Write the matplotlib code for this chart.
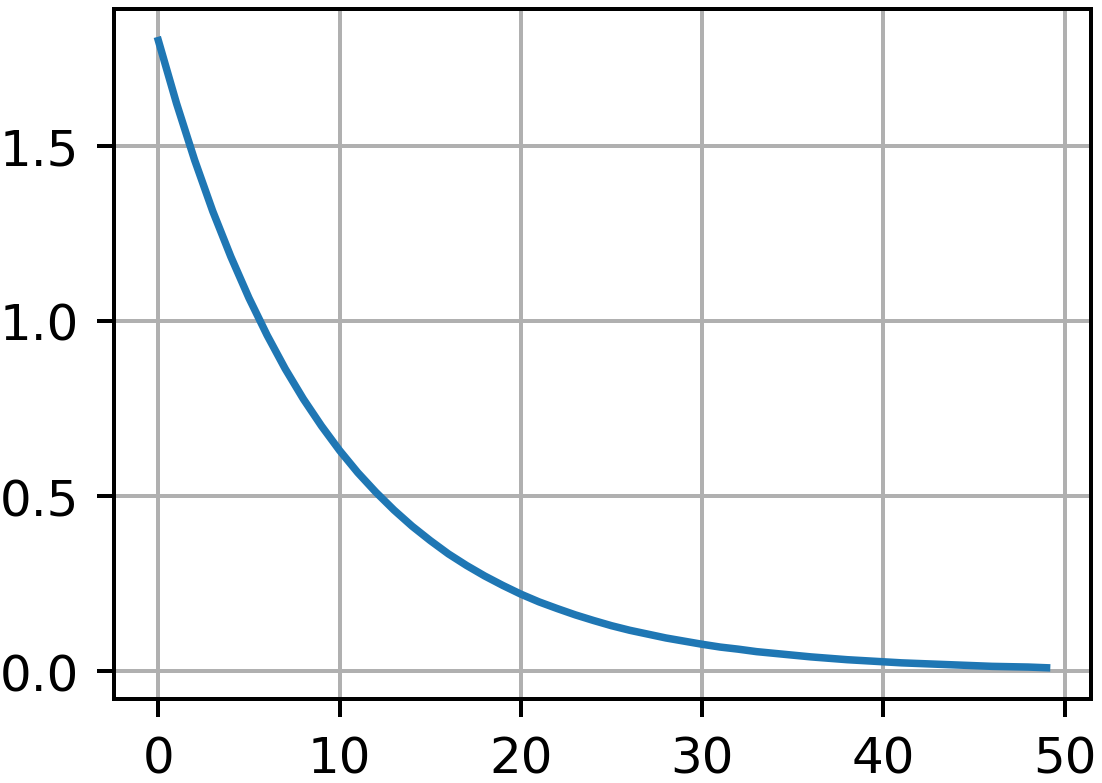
import matplotlib
matplotlib.use("Agg")
import matplotlib.pyplot as plt

# values, one per integer step
steps = list(range(50))
values = [
    1.800, 1.621, 1.459, 1.313, 1.183, 1.065, 0.959, 0.863, 0.777, 0.700,
    0.630, 0.567, 0.511, 0.460, 0.414, 0.373, 0.335, 0.302, 0.272, 0.245,
    0.220, 0.198, 0.179, 0.161, 0.145, 0.130, 0.117, 0.106, 0.095, 0.086,
    0.077, 0.069, 0.063, 0.056, 0.051, 0.046, 0.041, 0.037, 0.033, 0.030,
    0.027, 0.024, 0.022, 0.020, 0.018, 0.016, 0.014, 0.013, 0.012, 0.010,
]

DPI = 360
fig = plt.figure(figsize=(1102 / DPI, 784 / DPI), dpi=DPI)
ax = fig.add_axes([0.1034, 0.107, 0.8866, 0.880])
ax.plot(steps, values, color="#1f77b4", linewidth=1.5)
ax.set_xticks([0, 10, 20, 30, 40, 50])
ax.set_yticks([0.0, 0.5, 1.0, 1.5])
ax.grid(True)

fig.savefig("out.png", dpi=DPI)
plt.close(fig)
